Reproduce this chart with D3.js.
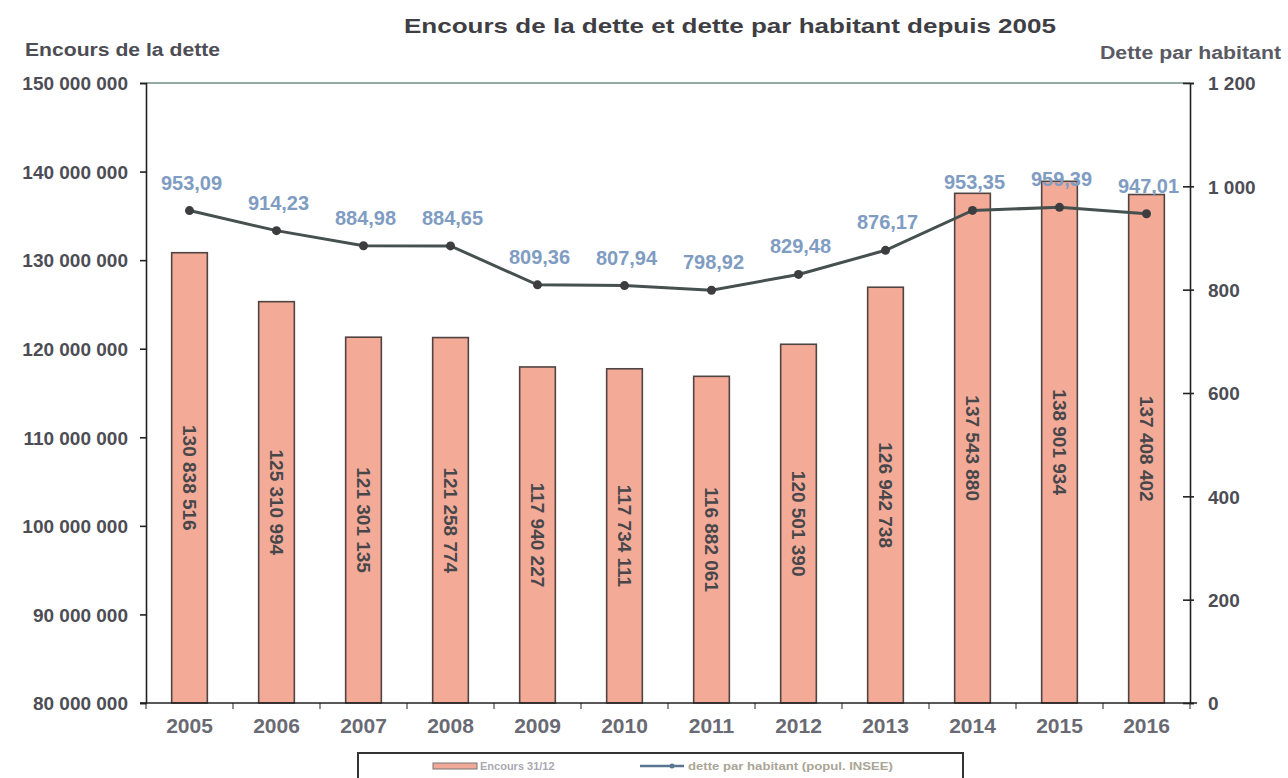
<!DOCTYPE html>
<html>
<head>
<meta charset="utf-8">
<script src="https://cdn.jsdelivr.net/npm/d3@7"></script>
<style>
  body { margin: 0; background: #fff; }
  svg { display: block; font-family: "Liberation Sans", Arial, sans-serif; }
</style>
</head>
<body>
<svg id="chart" width="1288" height="778"></svg>
<script>
// données
var years = ["2005", "2006", "2007", "2008", "2009", "2010", "2011", "2012", "2013", "2014", "2015", "2016"];
var encours = [130838516, 125310994, 121301135, 121258774, 117940227, 117734111, 116882061, 120501390, 126942738, 137543880, 138901934, 137408402];
var detteHab = [953.09, 914.23, 884.98, 884.65, 809.36, 807.94, 798.92, 829.48, 876.17, 953.35, 959.39, 947.01];
var leftTicks = [80000000, 90000000, 100000000, 110000000, 120000000, 130000000, 140000000, 150000000];
var rightTicks = [0, 200, 400, 600, 800, 1000, 1200];

var svg = d3.select('#chart');

// zone de tracé (attention : "top" est réservé par window)
var plotLeft = 146, plotRight = 1190, plotTop = 83, plotBottom = 703;

var fr = d3.formatLocale({ decimal: ",", thousands: " ", grouping: [3], currency: ["", " €"] });
var fmtInt = fr.format(",d");
var fmtDec = fr.format(".2f");

var x = d3.scaleBand().domain(years).range([plotLeft, plotRight]).paddingInner(0.59).paddingOuter(0.295);
var yL = d3.scaleLinear().domain([80000000, 150000000]).range([plotBottom, plotTop]);
var yR = d3.scaleLinear().domain([0, 1200]).range([plotBottom, plotTop]);

var textCol = '#4d4d55';

// titre
svg.append('text')
  .attr('x', 730).attr('y', 33)
  .attr('text-anchor', 'middle')
  .attr('textLength', 652).attr('lengthAdjust', 'spacingAndGlyphs')
  .style('font-size', '21px').style('font-weight', 'bold')
  .style('fill', '#3e3e44')
  .text('Encours de la dette et dette par habitant depuis 2005');

svg.append('text')
  .attr('x', 25).attr('y', 56)
  .attr('textLength', 195).attr('lengthAdjust', 'spacingAndGlyphs')
  .style('font-size', '18px').style('font-weight', 'bold')
  .style('fill', textCol)
  .text('Encours de la dette');

svg.append('text')
  .attr('x', 1100).attr('y', 59)
  .attr('textLength', 181).attr('lengthAdjust', 'spacingAndGlyphs')
  .style('font-size', '18px').style('font-weight', 'bold')
  .style('fill', '#5a5a64')
  .text('Dette par habitant');

// bordure haute de la zone de tracé
svg.append('line')
  .attr('x1', plotLeft).attr('x2', plotRight).attr('y1', plotTop).attr('y2', plotTop)
  .style('stroke', '#6f8f84').style('stroke-width', 1.5);

// barres
svg.append('g').selectAll('rect')
  .data(encours)
  .enter().append('rect')
  .attr('x', function(d, i) { return x(years[i]); })
  .attr('y', function(d) { return yL(d); })
  .attr('width', x.bandwidth())
  .attr('height', function(d) { return plotBottom - yL(d); })
  .style('fill', '#f3ab98')
  .style('stroke', '#4f4442')
  .style('stroke-width', 1.6);

// étiquettes verticales des barres
svg.append('g').selectAll('text')
  .data(encours)
  .enter().append('text')
  .attr('transform', function(d, i) {
    var cx = x(years[i]) + x.bandwidth() / 2;
    var cy = (yL(d) + plotBottom) / 2;
    return 'translate(' + cx + ',' + cy + ') rotate(90)';
  })
  .attr('text-anchor', 'middle')
  .attr('dy', '0.35em')
  .style('font-size', '19px').style('font-weight', 'bold')
  .style('fill', '#47474b')
  .text(function(d) { return fmtInt(d); });

// axe gauche
var axL = svg.append('g')
  .attr('transform', 'translate(' + plotLeft + ',0)')
  .call(d3.axisLeft(yL).tickValues(leftTicks).tickSize(6).tickPadding(12).tickFormat(fmtInt));
axL.selectAll('text').style('font-size', '19px').style('font-weight', 'bold').style('fill', textCol).attr('dy', '0.36em');

// axe droit
var axR = svg.append('g')
  .attr('transform', 'translate(' + plotRight + ',0)')
  .call(d3.axisRight(yR).tickValues(rightTicks).tickSize(4).tickPadding(14).tickFormat(fmtInt));
axR.selectAll('.tick line').attr('x1', -7);
axR.selectAll('text').style('font-size', '19px').style('font-weight', 'bold').style('fill', textCol).attr('dy', '0.36em');

// axe bas
var axB = svg.append('g')
  .attr('transform', 'translate(0,' + plotBottom + ')')
  .call(d3.axisBottom(x).tickSize(0).tickPadding(15));
axB.select('.domain').attr('d', 'M' + (plotLeft - 6) + ',0H' + (plotRight + 7));
axB.selectAll('text').style('font-size', '21px').style('font-weight', 'bold').style('fill', '#6a6a74');
// petites graduations entre les années
axB.selectAll('.sep')
  .data(d3.range(years.length + 1))
  .enter().append('line')
  .attr('x1', function(i) { return plotLeft + i * x.step(); })
  .attr('x2', function(i) { return plotLeft + i * x.step(); })
  .attr('y1', 0).attr('y2', 6)
  .style('stroke', '#222');

svg.selectAll('.domain, .tick line').style('stroke', '#222').style('stroke-width', 1.6);

// courbe dette par habitant
var line = d3.line()
  .x(function(d, i) { return x(years[i]) + x.bandwidth() / 2; })
  .y(function(d) { return yR(d); });

svg.append('path')
  .datum(detteHab)
  .attr('d', line)
  .style('fill', 'none')
  .style('stroke', '#45504f')
  .style('stroke-width', 3);

svg.append('g').selectAll('circle')
  .data(detteHab)
  .enter().append('circle')
  .attr('cx', function(d, i) { return x(years[i]) + x.bandwidth() / 2; })
  .attr('cy', function(d) { return yR(d); })
  .attr('r', 4.5)
  .style('fill', '#3d3d40');

svg.append('g').selectAll('text')
  .data(detteHab)
  .enter().append('text')
  .attr('x', function(d, i) { return x(years[i]) + x.bandwidth() / 2 + 2; })
  .attr('y', function(d) { return yR(d) - 21; })
  .attr('text-anchor', 'middle')
  .style('font-size', '20px').style('font-weight', 'bold')
  .style('fill', '#7f9cc2')
  .text(function(d) { return fmtDec(d); });

// légende
var leg = svg.append('g');
leg.append('rect')
  .attr('x', 358).attr('y', 753).attr('width', 605).attr('height', 40)
  .style('fill', '#fff').style('stroke', '#333').style('stroke-width', 2);
leg.append('rect')
  .attr('x', 433).attr('y', 763).attr('width', 44).attr('height', 6)
  .style('fill', '#f0a898').style('stroke', '#777').style('stroke-width', 1);
leg.append('text')
  .attr('x', 480).attr('y', 770)
  .style('font-size', '11px').style('font-weight', 'bold').style('fill', '#a9a9b2')
  .text('Encours 31/12');
leg.append('line')
  .attr('x1', 640).attr('x2', 684).attr('y1', 766).attr('y2', 766)
  .style('stroke', '#5a7590').style('stroke-width', 2.5);
leg.append('circle')
  .attr('cx', 672).attr('cy', 766).attr('r', 2.5).style('fill', '#5a7590');
leg.append('text')
  .attr('x', 688).attr('y', 770)
  .attr('textLength', 205).attr('lengthAdjust', 'spacingAndGlyphs')
  .style('font-size', '11px').style('font-weight', 'bold').style('fill', '#aaa596')
  .text('dette par habitant  (popul. INSEE)');
</script>
</body>
</html>
